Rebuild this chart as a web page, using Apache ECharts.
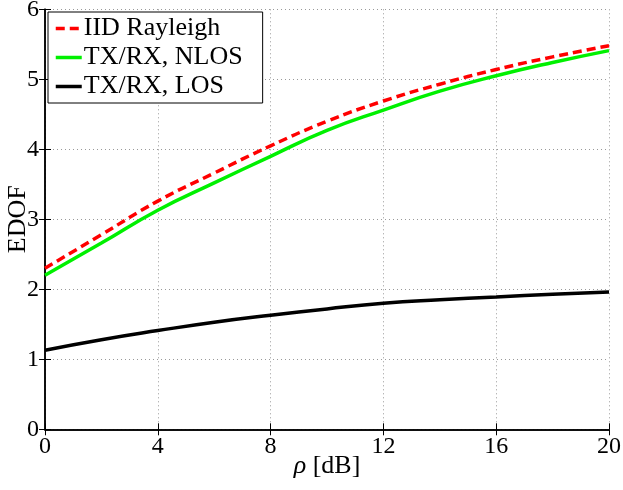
<!DOCTYPE html>
<html><head><meta charset="utf-8">
<script src="https://cdn.jsdelivr.net/npm/echarts@6/dist/echarts.min.js"></script>
<style>html,body{margin:0;padding:0;background:#fff}#c{width:623px;height:490px}</style>
</head><body><div id="c"></div>
<script>
const rhoDb = [0, 2, 4, 6, 8, 10, 12, 14, 16, 18, 20];
const iidRayleigh = [2.30, 2.78, 3.26, 3.66, 4.05, 4.40, 4.69, 4.93, 5.14, 5.32, 5.48];
const txrxNlos = [2.20, 2.66, 3.13, 3.52, 3.90, 4.27, 4.56, 4.83, 5.05, 5.24, 5.41];
const txrxLos = [1.13, 1.28, 1.41, 1.53, 1.63, 1.72, 1.80, 1.85, 1.89, 1.93, 1.96];
const seriesNames = ['IID Rayleigh', 'TX/RX, NLOS', 'TX/RX, LOS'];

const F = 'Liberation Serif';
const pair = (ys) => rhoDb.map((x, i) => [x, ys[i]]);
const chart = echarts.init(document.getElementById('c'));
const gridLine = {show: true, lineStyle: {color: '#999', type: [1, 3], width: 1}};
const tick = {show: true, inside: true, length: 6, lineStyle: {color: '#000'}};
const axLine = {show: true, lineStyle: {color: '#000', width: 1.5}};
chart.setOption({
  animation: false,
  grid: {left: 45, right: 14, top: 9.3, bottom: 60.7, show: false, containLabel: false, outerBoundsMode: 'none'},
  legend: {
    orient: 'vertical', left: 48, top: 12,
    data: seriesNames,
    itemWidth: 26, itemHeight: 14, itemGap: 2,
    padding: [3, 20, 3, 6],
    borderColor: '#000', borderWidth: 1, backgroundColor: '#fff',
    itemStyle: {opacity: 0},
    lineStyle: {width: 3.5},
    textStyle: {fontFamily: F, fontSize: 26, lineHeight: 27, color: '#000', padding: [0, 0, 0, -3]}
  },
  xAxis: [{
    type: 'value', min: 0, max: 20, interval: 4,
    name: '{i|ρ} [dB]', nameLocation: 'middle', nameGap: 24, nameMoveOverlap: false,
    nameTextStyle: {fontFamily: F, fontSize: 26, color: '#000',
      rich: {i: {fontFamily: F, fontSize: 26, fontStyle: 'italic', color: '#000'}}},
    axisLine: axLine, axisTick: tick,
    axisLabel: {fontFamily: F, fontSize: 24, color: '#000', margin: 5},
    splitLine: gridLine
  }, {
    type: 'value', min: 0, max: 20, interval: 4, position: 'top',
    axisLine: axLine, axisTick: tick,
    axisLabel: {show: false}, splitLine: {show: false}
  }],
  yAxis: [{
    type: 'value', min: 0, max: 6, interval: 1,
    name: 'EDOF', nameLocation: 'middle', nameGap: 14, nameRotate: 90, nameMoveOverlap: false,
    nameTextStyle: {fontFamily: F, fontSize: 26, color: '#000'},
    axisLine: axLine, axisTick: tick,
    axisLabel: {fontFamily: F, fontSize: 24, color: '#000', margin: 6},
    splitLine: gridLine
  }, {
    type: 'value', min: 0, max: 6, interval: 1, position: 'right',
    axisLine: axLine, axisTick: tick,
    axisLabel: {show: false}, splitLine: {show: false}
  }],
  series: [
    {name: seriesNames[0], type: 'line', data: pair(iidRayleigh), smooth: true, symbol: 'none', z: 4,
      itemStyle: {color: '#ff0000'}, lineStyle: {color: '#ff0000', width: 3.5, type: [9, 5]}},
    {name: seriesNames[1], type: 'line', data: pair(txrxNlos), smooth: true, symbol: 'none', z: 3,
      itemStyle: {color: '#00f000'}, lineStyle: {color: '#00f000', width: 3.5}},
    {name: seriesNames[2], type: 'line', data: pair(txrxLos), smooth: true, symbol: 'none', z: 3,
      itemStyle: {color: '#000'}, lineStyle: {color: '#000', width: 3.5}}
  ]
});
</script></body></html>
